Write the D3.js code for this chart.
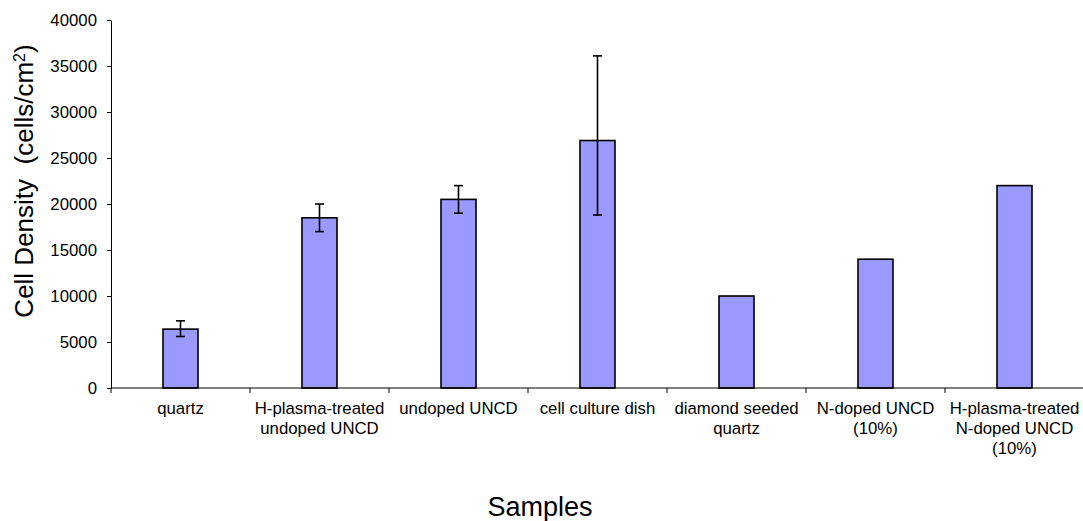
<!DOCTYPE html>
<html>
<head>
<meta charset="utf-8">
<script src="https://cdn.jsdelivr.net/npm/d3@7"></script>
<style>
  html, body { margin: 0; padding: 0; background: #fff; }
  svg { display: block; }
  text { font-family: "Liberation Sans", Arial, sans-serif; fill: #000; }
</style>
</head>
<body>
<svg id="chart" width="1083" height="521"></svg>
<script>
// ---- data ----
const categories = [
  "quartz",
  "H-plasma-treated\nundoped UNCD",
  "undoped UNCD",
  "cell culture dish",
  "diamond seeded\nquartz",
  "N-doped UNCD\n(10%)",
  "H-plasma-treated\nN-doped UNCD\n(10%)"
];
const values = [6400, 18500, 20500, 26900, 10000, 14000, 22000];
const errHigh = [7300, 20000, 22000, 36100, null, null, null];
const errLow  = [5600, 17000, 19000, 18800, null, null, null];
const yTicks = [0, 5000, 10000, 15000, 20000, 25000, 30000, 35000, 40000];

// ---- layout ----
const svg = d3.select("#chart");
const plotLeft = 111, plotRight = 1084, plotTop = 20, plotBottom = 388;

const x = d3.scaleBand().domain(d3.range(categories.length)).range([plotLeft, plotRight]).padding(0);
const y = d3.scaleLinear().domain([0, 40000]).range([plotBottom, plotTop]);
const barW = 35;

// y axis
const yAxis = d3.axisLeft(y).tickValues(yTicks).tickSize(4).tickSizeOuter(0).tickPadding(10)
  .tickFormat(d3.format("d"));
const gy = svg.append("g").attr("transform", `translate(${plotLeft},0)`).call(yAxis);
gy.select(".domain").attr("stroke", "#000").attr("stroke-width", 1);
gy.selectAll(".tick line").attr("stroke", "#000");
gy.selectAll(".tick text").style("font-size", "16.8px").attr("fill", "#000")
  .style("font-family", "'Liberation Sans', Arial, sans-serif");

// bars
svg.append("g").selectAll("rect").data(values).join("rect")
  .attr("x", (d, i) => x(i) + x.bandwidth() / 2 - barW / 2)
  .attr("y", d => y(d))
  .attr("width", barW)
  .attr("height", d => y(0) - y(d))
  .attr("fill", "#9999FF")
  .attr("stroke", "#000")
  .attr("stroke-width", 1.6);

// error bars
const eg = svg.append("g").attr("stroke", "#000").attr("stroke-width", 1.6);
values.forEach((v, i) => {
  if (errHigh[i] == null) return;
  const cx = x(i) + x.bandwidth() / 2;
  eg.append("line").attr("x1", cx).attr("x2", cx).attr("y1", y(errHigh[i])).attr("y2", y(errLow[i]));
  eg.append("line").attr("x1", cx - 4.5).attr("x2", cx + 4.5).attr("y1", y(errHigh[i])).attr("y2", y(errHigh[i]));
  eg.append("line").attr("x1", cx - 4.5).attr("x2", cx + 4.5).attr("y1", y(errLow[i])).attr("y2", y(errLow[i]));
});

// x axis line and category boundary ticks
const gx = svg.append("g");
gx.append("line").attr("x1", plotLeft).attr("x2", 1083).attr("y1", plotBottom).attr("y2", plotBottom)
  .attr("stroke", "#000").attr("stroke-width", 1);
d3.range(categories.length + 1).forEach(i => {
  const bx = i < categories.length ? x(i) : x(categories.length - 1) + x.bandwidth();
  gx.append("line").attr("x1", bx).attr("x2", bx).attr("y1", plotBottom).attr("y2", plotBottom + 5)
    .attr("stroke", "#000").attr("stroke-width", 1);
});

// category labels
categories.forEach((c, i) => {
  const t = gx.append("text").attr("text-anchor", "middle").style("font-size", "16.8px")
    .attr("x", x(i) + x.bandwidth() / 2).attr("y", 414);
  c.split("\n").forEach((line, k) => {
    t.append("tspan").attr("x", x(i) + x.bandwidth() / 2).attr("dy", k === 0 ? 0 : 20).text(line);
  });
});

// axis titles
svg.append("text").attr("x", 540).attr("y", 516).attr("text-anchor", "middle")
  .style("font-size", "27px").text("Samples");

const yt = svg.append("text").attr("transform", "translate(33,181) rotate(-90)")
  .attr("text-anchor", "middle").style("font-size", "26px").style("white-space", "pre");
yt.append("tspan").text("Cell Density\u00A0 (cells/cm");
yt.append("tspan").attr("baseline-shift", "super").style("font-size", "16px").text("2");
yt.append("tspan").text(")");
</script>
</body>
</html>
